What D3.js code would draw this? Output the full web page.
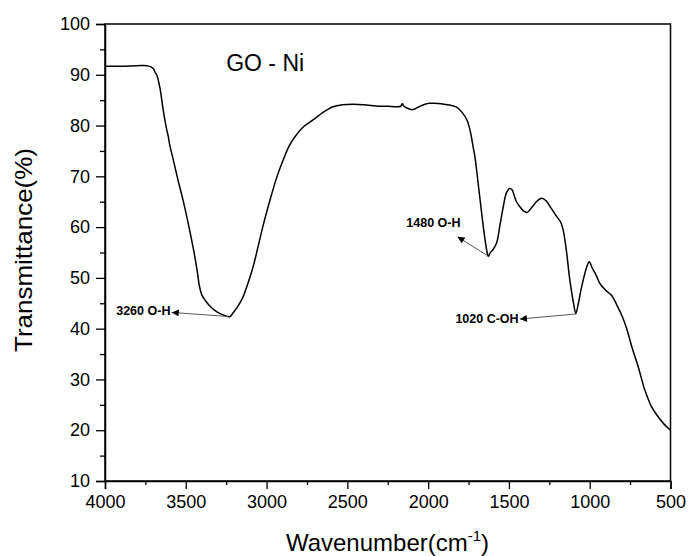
<!DOCTYPE html>
<html>
<head>
<meta charset="utf-8">
<script src="https://cdn.jsdelivr.net/npm/d3@7"></script>
<style>
  html, body { margin: 0; padding: 0; background: #fff; }
  svg { display: block; font-family: "Liberation Sans", Arial, sans-serif; }
</style>
</head>
<body>
<svg id="chart" width="690" height="556"></svg>
<script>
// ---- data ----
const wavenumber = [4000,3900,3800,3740,3720,3700,3690,3680,3660,3640,3620,3608,3600,3577,3550,3517,3480,3450,3430,3415,3400,3380,3350,3320,3290,3260,3240,3225,3210,3180,3146,3120,3084,3050,3020,2979,2940,2900,2860,2824,2770,2713,2650,2589,2530,2465,2400,2300,2250,2200,2170,2160,2150,2120,2100,2080,2050,2020,1990,1960,1920,1880,1850,1822,1790,1760,1740,1720,1710,1690,1669,1650,1635,1628,1615,1600,1576,1555,1535,1515,1495,1480,1465,1450,1432,1410,1387,1360,1330,1298,1270,1240,1205,1180,1164,1145,1123,1100,1086,1070,1055,1040,1020,1003,985,960,937,900,865,830,800,772,740,700,660,630,617,580,540,500];
const transmittance = [91.7,91.7,91.8,91.8,91.6,91.2,90.5,90.0,87.4,83.1,79.5,77.8,76.3,73.2,69.5,65.3,60.0,55.2,51.5,48.3,46.6,45.6,44.4,43.6,43.0,42.6,42.4,42.4,43.0,44.3,46.2,48.5,52.1,56.5,60.5,65.3,69.5,73.0,76.0,77.8,79.8,81.1,82.6,83.7,84.1,84.2,84.1,83.8,83.8,83.7,83.8,84.3,83.8,83.3,83.1,83.3,83.8,84.2,84.4,84.4,84.3,84.1,83.9,83.6,82.6,81.1,79.0,75.5,73.8,68.5,62.8,58.0,55.0,54.2,55.0,55.5,56.9,60.5,64.0,66.8,67.6,67.3,66.0,64.8,64.0,63.2,62.9,63.8,65.0,65.7,65.2,63.8,62.1,61.0,59.4,55.5,49.6,45.0,43.0,45.0,47.5,49.6,52.0,53.2,52.0,50.5,48.9,47.5,46.6,44.5,42.5,40.1,36.5,32.5,28.0,25.5,24.6,22.8,21.2,20.0];

const xTicks = [4000,3500,3000,2500,2000,1500,1000,500];
const xMinorTicks = [3750,3250,2750,2250,1750,1250,750];
const yTicks = [10,20,30,40,50,60,70,80,90,100];
const yMinorTicks = [15,25,35,45,55,65,75,85,95];

const chartLabel = "GO - Ni";
const labelPos = [3250, 90.7];
// annotations: label, text position [wn, T], arrow tail (band) [wn, T], arrow tip [wn, T], text-anchor
const annLabels = ["3260 O-H", "1480 O-H", "1020 C-OH"];
const annTextPos = [[3595, 42.7], [2135, 60.0], [1440, 41.1]];
const annTail = [[3239, 42.4], [1624, 54.2], [1081, 42.9]];
const annTip = [[3587, 43.2], [1818, 58.1], [1432, 41.9]];
const annAnchor = ["end", "start", "end"];

// ---- layout ----
const svg = d3.select("#chart");
const L = 105, R = 670.5, T = 24, B = 481;
const x = d3.scaleLinear().domain([4000, 500]).range([L, R]);
const y = d3.scaleLinear().domain([10, 100]).range([B, T]);

const defs = svg.append("defs");
defs.append("marker").attr("id", "arrow")
  .attr("viewBox", "0 0 10 10").attr("refX", 10).attr("refY", 5)
  .attr("markerWidth", 10).attr("markerHeight", 7).attr("markerUnits", "userSpaceOnUse")
  .attr("orient", "auto")
  .append("path").attr("d", "M0,0 L10,5 L0,10 z").attr("fill", "#000");

// frame
svg.append("rect").attr("x", L).attr("y", T).attr("width", R - L).attr("height", B - T)
  .attr("fill", "none").attr("stroke", "#000").attr("stroke-width", 1.5);

// x axis
const xAxis = svg.append("g").attr("transform", `translate(0,${B})`)
  .call(d3.axisBottom(x).tickValues(xTicks).tickSize(8).tickPadding(6).tickFormat(d3.format("d")));
svg.append("g").attr("transform", `translate(0,${B})`)
  .call(d3.axisBottom(x).tickValues(xMinorTicks).tickSize(4).tickFormat(""))
  .call(g => g.select(".domain").remove());
// y axis
const yAxis = svg.append("g").attr("transform", `translate(${L},0)`)
  .call(d3.axisLeft(y).tickValues(yTicks).tickSize(9).tickPadding(6).tickFormat(d3.format("d")));
svg.append("g").attr("transform", `translate(${L},0)`)
  .call(d3.axisLeft(y).tickValues(yMinorTicks).tickSize(5).tickFormat(""))
  .call(g => g.select(".domain").remove());

svg.selectAll(".tick line").attr("stroke", "#000").attr("stroke-width", 1.3);
svg.selectAll(".domain").attr("stroke", "#000").attr("stroke-width", 1.5);
xAxis.selectAll("text").attr("font-size", 18).attr("fill", "#000")
  .attr("font-family", "'Liberation Sans', Arial, sans-serif");
yAxis.selectAll("text").attr("font-size", 18).attr("fill", "#000")
  .attr("font-family", "'Liberation Sans', Arial, sans-serif");

// line
const pts = wavenumber.map((w, i) => [w, transmittance[i]]);
svg.append("path").datum(pts)
  .attr("fill", "none").attr("stroke", "#000").attr("stroke-width", 1.5)
  .attr("stroke-linejoin", "round")
  .attr("d", d3.line().x(d => x(d[0])).y(d => y(d[1])).curve(d3.curveCatmullRom.alpha(0.5)));

// sample label
svg.append("text").attr("x", x(labelPos[0])).attr("y", y(labelPos[1]))
  .attr("font-size", 23).attr("fill", "#000").text(chartLabel);

// annotations
annLabels.forEach((lab, i) => {
  svg.append("line")
    .attr("x1", x(annTail[i][0])).attr("y1", y(annTail[i][1]))
    .attr("x2", x(annTip[i][0])).attr("y2", y(annTip[i][1]))
    .attr("stroke", "#444").attr("stroke-width", 0.9)
    .attr("marker-end", "url(#arrow)");
  svg.append("text").attr("x", x(annTextPos[i][0])).attr("y", y(annTextPos[i][1]))
    .attr("text-anchor", annAnchor[i]).attr("font-size", 12.5).attr("font-weight", "bold")
    .attr("fill", "#000").text(lab);
});

// axis titles
const xt = svg.append("text").attr("x", 387.5).attr("y", 551)
  .attr("text-anchor", "middle").attr("font-size", 24).attr("fill", "#000");
xt.append("tspan").text("Wavenumber(cm");
xt.append("tspan").attr("font-size", 15).attr("dy", -10).text("-1");
xt.append("tspan").attr("dy", 10).text(")");

svg.append("text").attr("transform", `translate(32,250) rotate(-90)`)
  .attr("text-anchor", "middle").attr("font-size", 24).attr("fill", "#000")
  .attr("textLength", 204).attr("lengthAdjust", "spacingAndGlyphs")
  .text("Transmittance(%)");
</script>
</body>
</html>
